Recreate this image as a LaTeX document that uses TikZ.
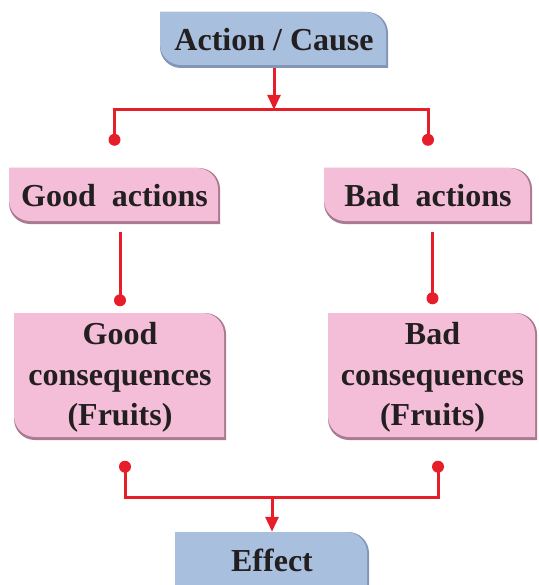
\documentclass[tikz,border=0pt]{standalone}
\usepackage{fontspec}
\setmainfont{Liberation Serif}
\usetikzlibrary{calc,arrows.meta}
\definecolor{redc}{HTML}{E61E2A}
\definecolor{bluec}{HTML}{A9BFDE}
\definecolor{blueshd}{HTML}{8296B8}
\definecolor{pinkc}{HTML}{F5BED8}
\definecolor{pinkshd}{HTML}{A97A90}
\definecolor{txtc}{HTML}{231F20}
% #1 options, #2 x1, #3 y1, #4 x2, #5 y2 (y measured downwards)
\newcommand\tagshape[5]{%
  \fill[#1] ({#2},{-(#3)}) -- ({#4-21},{-(#3)}) arc[start angle=90,end angle=0,radius=21pt]
    -- ({#4},{-(#5)}) -- ({#2+21},{-(#5)}) arc[start angle=270,end angle=180,radius=21pt] -- cycle;}
\newcommand\tagbox[6]{% #1 fill, #2 shadow, #3..#6 coords
  \tagshape{#2}{#3}{#4}{#5}{#6}%
  \tagshape{#1}{#3}{#4}{#5-2}{#6-3}}
\begin{document}
\begin{tikzpicture}[x=1pt,y=1pt,
  txt/.style={font=\bfseries\fontsize{32}{40}\selectfont, text=txtc, align=center, inner sep=0pt},
  conn/.style={draw=redc, line width=3pt},
  arr/.style={-{Triangle[length=15pt,width=13pt]}},
  dot/.style={fill=redc}]
\useasboundingbox (0,0) rectangle (538,-585);
\clip (0,0) rectangle (538,-585);
% boxes
\tagbox{bluec}{blueshd}{160}{12}{388}{68}
\tagbox{pinkc}{pinkshd}{9}{168}{220}{224}
\tagbox{pinkc}{pinkshd}{324}{168}{532}{224}
\tagbox{pinkc}{pinkshd}{14}{313}{226}{440}
\tagbox{pinkc}{pinkshd}{328}{313}{537}{440}
\tagbox{bluec}{blueshd}{175}{532}{369}{620}
% text nodes
\node[txt, minimum width=228pt, minimum height=56pt] (ac) at (274,-40) {Action / Cause};
\node[txt, minimum width=211pt, minimum height=56pt] (ga) at (114.5,-196) {Good\ \ actions};
\node[txt, minimum width=208pt, minimum height=56pt] (ba) at (428,-196) {Bad\ \ actions};
\node[txt, minimum width=212pt, minimum height=127pt] (gc) at (120,-377) {Good\\[1pt]consequences\\(Fruits)};
\node[txt, minimum width=209pt, minimum height=127pt] (bc) at (432.5,-377) {Bad\\[1pt]consequences\\(Fruits)};
\node[txt, minimum width=194pt, minimum height=56pt] (ef) at (272,-560) {Effect};
% top split
\coordinate (t1) at ($(ga.north)+(0,28)$);
\coordinate (t2) at ($(ba.north)+(0,28)$);
\coordinate (bar) at ($(t1)+(0,30)$);
\draw[conn] (t1) -- (bar) -| (t2);
\draw[conn,arr] (ac.south) -- (ac.south |- bar);
\fill[dot] (t1) circle[radius=6pt];
\fill[dot] (t2) circle[radius=6pt];
% middle links
\coordinate (m1) at ($(gc.north)+(0,13)$);
\coordinate (m2) at ($(bc.north)+(0,15)$);
\draw[conn] ($(gc.north |- ga.south)+(0,-8)$) -- (m1);
\draw[conn] ($(bc.north |- ba.south)+(0,-8)$) -- (m2);
\fill[dot] (m1) circle[radius=6pt];
\fill[dot] (m2) circle[radius=6pt];
% bottom merge
\coordinate (b1) at ($(gc.south)+(5,-26)$);
\coordinate (b2) at ($(bc.south)+(5.5,-26)$);
\coordinate (bar2) at ($(b1)+(0,-31)$);
\draw[conn] (b1) -- (bar2) -| (b2);
\draw[conn,arr] (ef.north |- bar2) -- (ef.north);
\fill[dot] (b1) circle[radius=6pt];
\fill[dot] (b2) circle[radius=6pt];
\end{tikzpicture}
\end{document}
